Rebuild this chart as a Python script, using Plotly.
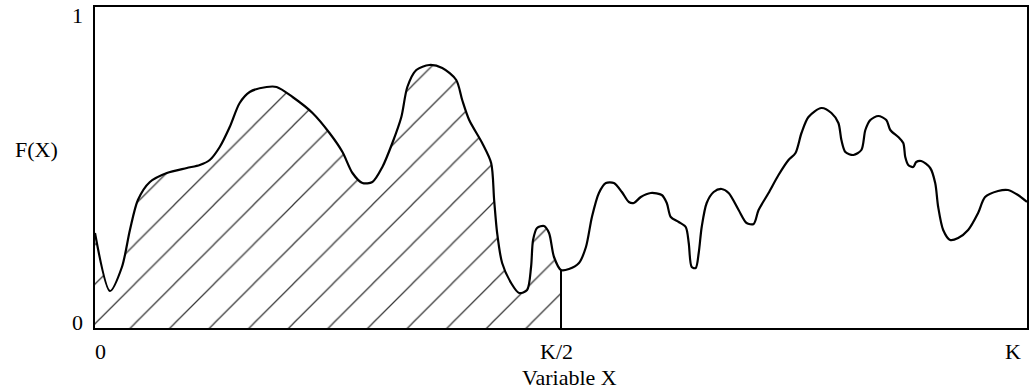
import plotly.graph_objects as go

# Curve F(X): x as fraction of K, y as F value (0..1)
px_x = [95, 110, 122, 130, 138, 150, 167, 187, 200, 210, 220, 230, 240, 250, 267, 277, 293, 313, 330,
        343, 353, 363, 373, 383, 393, 402, 408, 417, 430, 443, 457, 463, 470, 483, 492, 495, 498, 503,
        512, 520, 528, 532, 534, 538, 545, 550, 555, 562,
        570, 580, 587, 593, 600, 607, 615, 623, 630, 635, 642, 652, 663, 668, 672, 680, 687, 690, 693,
        697, 700, 703, 708, 715, 723, 730, 740, 748, 755, 760, 770, 780, 790, 797, 803, 810, 823, 833,
        840, 843, 847, 855, 863, 867, 872, 880, 888, 892, 900, 905, 907, 910, 915, 918, 923, 932, 937,
        940, 945, 952, 960, 970, 980, 987, 1000, 1010, 1020, 1029]
px_y = [233, 291, 267, 230, 200, 182, 173, 168, 165, 160, 147, 127, 103, 92, 87, 87, 97, 113, 133,
        152, 173, 183, 182, 167, 143, 117, 87, 70, 65, 68, 80, 100, 120, 143, 163, 200, 233, 263,
        283, 293, 290, 267, 240, 228, 226, 233, 257, 270,
        269, 263, 247, 217, 193, 183, 183, 192, 202, 203, 197, 193, 195, 203, 217, 222, 227, 243, 267,
        268, 253, 227, 203, 192, 189, 193, 210, 223, 224, 210, 193, 175, 160, 153, 133, 117, 108, 113,
        123, 140, 152, 155, 150, 130, 120, 116, 120, 130, 137, 143, 157, 165, 167, 162, 161, 168, 183,
        207, 230, 240, 238, 230, 213, 197, 191, 190, 195, 202]

x_vals = [(p - 95) / 934 for p in px_x]
f_vals = [(328 - p) / 321 for p in px_y]

x_ticks = [0, 0.5, 1]
x_labels = ["0", "K/2", "K"]
y_ticks = [0, 1]
y_labels = ["0", "1"]

half = 0.5
x_fill = [x for x in x_vals if x <= half + 1e-9]
f_fill = f_vals[:len(x_fill)]
f_half = f_fill[-1]

FONT = dict(family="Liberation Serif, Times New Roman, serif", size=22, color="black")

fig = go.Figure()
fig.add_trace(go.Scatter(
    x=x_fill, y=f_fill, mode="lines", line=dict(width=0, shape="spline", smoothing=0.8),
    fill="tozeroy", fillcolor="white",
    fillpattern=dict(shape="/", size=28, solidity=0.045, fgcolor="#3a3a3a", fgopacity=1,
                     bgcolor="white"),
    hoverinfo="skip", showlegend=False))
fig.add_trace(go.Scatter(
    x=[half, half], y=[0, f_half], mode="lines", line=dict(color="black", width=2),
    showlegend=False))
fig.add_trace(go.Scatter(
    x=x_vals, y=f_vals, mode="lines", line=dict(color="black", width=2.2, shape="spline", smoothing=0.8),
    showlegend=False))

ann = []
for v, t, s in zip(x_ticks, x_labels, [5, -5, -14]):
    ann.append(dict(x=v, y=0, xref="x", yref="paper", text=t, showarrow=False, xanchor="center",
                    yanchor="middle", xshift=s, yshift=-23, font=FONT))
for v, t, s in zip(y_ticks, y_labels, [6, -8]):
    ann.append(dict(x=0, y=v, xref="paper", yref="y", text=t, showarrow=False, xanchor="center",
                    yanchor="middle", xshift=-18, yshift=s, font=FONT))
ann.append(dict(x=0, y=0.5, xref="paper", yref="paper", text="F(X)", showarrow=False,
                xanchor="center", yanchor="middle", xshift=-59, yshift=18, font=FONT))
ann.append(dict(x=0.5, y=0, xref="paper", yref="paper", text="Variable X", showarrow=False,
                xanchor="center", yanchor="middle", xshift=8, yshift=-49, font=FONT))

fig.update_layout(
    width=1032, height=392,
    margin=dict(l=95, r=3, t=7, b=64),
    paper_bgcolor="white", plot_bgcolor="white",
    xaxis=dict(range=[0, 1], showgrid=False, zeroline=False, showticklabels=False, ticks="",
               showline=True, mirror=True, linecolor="black", linewidth=2),
    yaxis=dict(range=[0, 1], showgrid=False, zeroline=False, showticklabels=False, ticks="",
               showline=True, mirror=True, linecolor="black", linewidth=2),
    annotations=ann,
)
fig.write_html("out.html", config={"displayModeBar": False},
               post_script="document.body.style.margin='0px';")
